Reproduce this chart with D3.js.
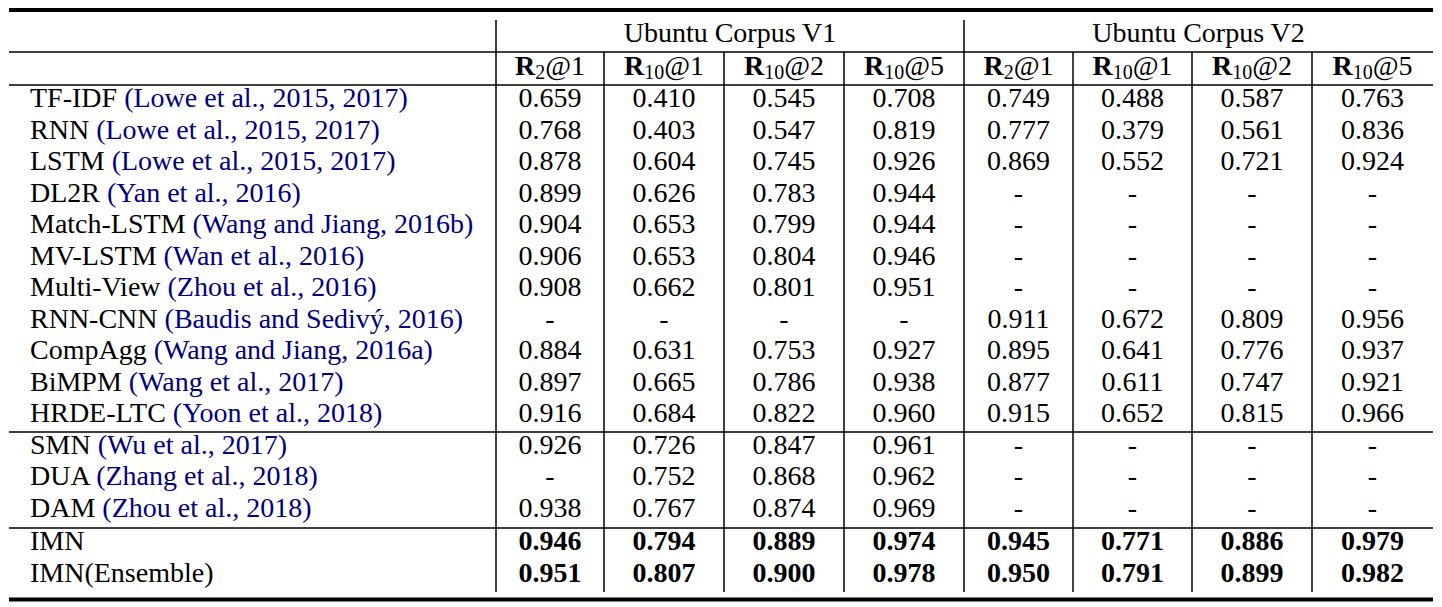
<!DOCTYPE html>
<html><head><meta charset="utf-8">
<script src="https://cdn.jsdelivr.net/npm/d3@7"></script>
<style>
html,body{margin:0;padding:0;background:#fff;}
svg{display:block;font-family:"Liberation Serif","Times New Roman",serif;}
</style></head>
<body><svg id="c" width="1442" height="607"></svg>
<script>
const models = ["TF-IDF","RNN","LSTM","DL2R","Match-LSTM","MV-LSTM","Multi-View","RNN-CNN","CompAgg","BiMPM","HRDE-LTC","SMN","DUA","DAM","IMN","IMN(Ensemble)"];
const citations = ["(Lowe et al., 2015, 2017)","(Lowe et al., 2015, 2017)","(Lowe et al., 2015, 2017)","(Yan et al., 2016)","(Wang and Jiang, 2016b)","(Wan et al., 2016)","(Zhou et al., 2016)","(Baudis and Sedivý, 2016)","(Wang and Jiang, 2016a)","(Wang et al., 2017)","(Yoon et al., 2018)","(Wu et al., 2017)","(Zhang et al., 2018)","(Zhou et al., 2018)","",""];
const datasets = ["Ubuntu Corpus V1","Ubuntu Corpus V2"];
const metricK = ["2","10","10","10"];
const metricAt = ["@1","@1","@2","@5"];
const v1_R2_1  = ["0.659","0.768","0.878","0.899","0.904","0.906","0.908","-","0.884","0.897","0.916","0.926","-","0.938","0.946","0.951"];
const v1_R10_1 = ["0.410","0.403","0.604","0.626","0.653","0.653","0.662","-","0.631","0.665","0.684","0.726","0.752","0.767","0.794","0.807"];
const v1_R10_2 = ["0.545","0.547","0.745","0.783","0.799","0.804","0.801","-","0.753","0.786","0.822","0.847","0.868","0.874","0.889","0.900"];
const v1_R10_5 = ["0.708","0.819","0.926","0.944","0.944","0.946","0.951","-","0.927","0.938","0.960","0.961","0.962","0.969","0.974","0.978"];
const v2_R2_1  = ["0.749","0.777","0.869","-","-","-","-","0.911","0.895","0.877","0.915","-","-","-","0.945","0.950"];
const v2_R10_1 = ["0.488","0.379","0.552","-","-","-","-","0.672","0.641","0.611","0.652","-","-","-","0.771","0.791"];
const v2_R10_2 = ["0.587","0.561","0.721","-","-","-","-","0.809","0.776","0.747","0.815","-","-","-","0.886","0.899"];
const v2_R10_5 = ["0.763","0.836","0.924","-","-","-","-","0.956","0.937","0.921","0.966","-","-","-","0.979","0.982"];
const boldRows = [14,15];

const columns = [v1_R2_1,v1_R10_1,v1_R10_2,v1_R10_5,v2_R2_1,v2_R10_1,v2_R10_2,v2_R10_5];

const svg = d3.select("#c");
const FS = 28;
const L = 9, R = 1433;
const colEdges = [496,604,724,844,964,1073,1192,1312,1433];
const x = i => (colEdges[i]+colEdges[i+1])/2;
const rowY = d3.scaleLinear().domain([0,1]).range([107,138.5]);
const baseline = i => rowY(i) + (i>=14?2:0);

function hline(y,w){svg.append("line").attr("x1",L).attr("x2",R).attr("y1",y).attr("y2",y).attr("stroke","#000").attr("stroke-width",w);}
hline(10,4); hline(52,1.5); hline(85,1.5); hline(432,1.5); hline(528,1.5); hline(599.5,4);
function vline(xx,y1,y2){svg.append("line").attr("x1",xx).attr("x2",xx).attr("y1",y1).attr("y2",y2).attr("stroke","#000").attr("stroke-width",1.5);}
vline(496,20,592); vline(964,20,592);
[604,724,844,1073,1192,1312].forEach(xx=>vline(xx,52,592));

datasets.forEach((d,i)=>{
  svg.append("text").attr("x",(colEdges[i*4]+colEdges[i*4+4])/2).attr("y",42)
    .attr("text-anchor","middle").attr("font-size",FS).text(d);
});
for(let c=0;c<8;c++){
  const m=c%4;
  const t=svg.append("text").attr("x",x(c)).attr("y",75).attr("text-anchor","middle").attr("font-size",FS);
  t.append("tspan").attr("font-weight","bold").text("R");
  t.append("tspan").attr("font-size",20).attr("dy",4).text(metricK[m]);
  t.append("tspan").attr("dy",-4).text(metricAt[m]);
}
models.forEach((m,i)=>{
  const t=svg.append("text").attr("x",30).attr("y",baseline(i)).attr("font-size",FS);
  t.append("tspan").attr("fill","#000").text(m);
  if(citations[i]) t.append("tspan").attr("fill","#000080").text(" "+citations[i]);
  columns.forEach((col,c)=>{
    svg.append("text").attr("x",x(c)).attr("y",baseline(i)).attr("text-anchor","middle")
      .attr("font-size",FS).attr("font-weight",boldRows.includes(i)?"bold":"normal").text(col[i]);
  });
});
</script></body></html>
